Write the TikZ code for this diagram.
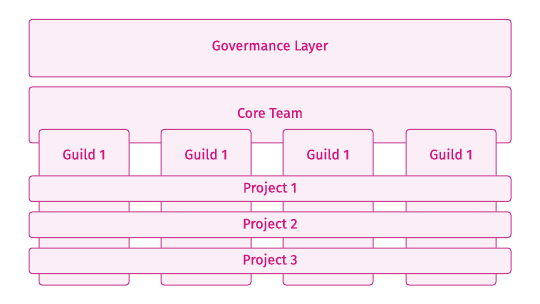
\documentclass[tikz,border=0pt]{standalone}
\usepackage{fontspec}
\setmainfont{Fira Sans}[FakeBold=0.5]
\definecolor{boxfill}{HTML}{FCEEF6}
\definecolor{boxline}{HTML}{C43A8E}
\definecolor{boxtext}{HTML}{D0177D}
\begin{document}
\begin{tikzpicture}[x=1pt,y=-1pt,
  layer/.style={draw=boxline,fill=boxfill,line width=1pt,rounded corners=3pt},
  lbl/.style={text=boxtext,font=\fontsize{14}{16}\selectfont,inner sep=0pt}]
\useasboundingbox (0,0) rectangle (540,304);
\draw[layer] (29,19.5) rectangle (511,77);
\node[lbl] (gov) at (270,47) {Govermance Layer};
\draw[layer] (29,87) rectangle (511,143);
\node[lbl] (core) at (270,113) {Core Team};
\foreach \x [count=\i] in {39,161,283,406}{
  \draw[layer] (\x,129.5) rectangle (\x+90,285);
  \node[lbl] (g\i) at (\x+45,154) {Guild 1};
}
\foreach \y/\t [count=\i] in {176/Project 1,212/Project 2,248/Project 3}{
  \draw[layer] (29,\y) rectangle (511,\y+25.5);
  \node[lbl] (p\i) at (270,\y+12.5) {\t};
}
\end{tikzpicture}
\end{document}
